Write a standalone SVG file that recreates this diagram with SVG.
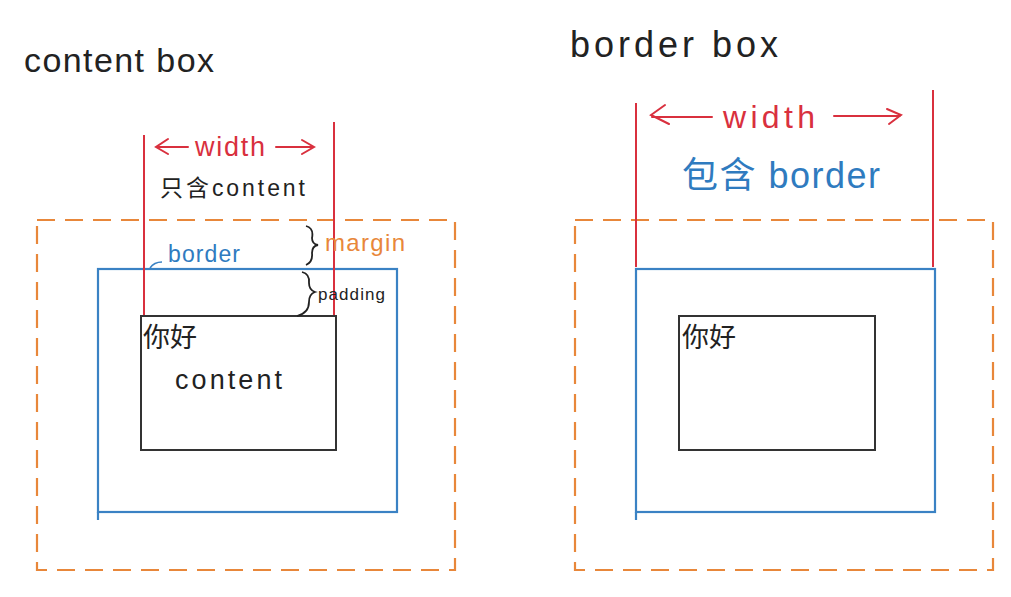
<svg xmlns="http://www.w3.org/2000/svg" width="1011" height="597" viewBox="0 0 1011 597">
<style>
.t{font-family:"Liberation Sans","Noto Sans CJK SC",sans-serif}
.blk{fill:#222}
.red{fill:#d9303e}
.blu{fill:#2f7bbf}
.org{fill:#e8873a}
.margin{fill:none;stroke:#e8873a;stroke-width:2.2;stroke-dasharray:18 10}
.border{fill:none;stroke:#3a82c4;stroke-width:2.2}
.content{fill:none;stroke:#333;stroke-width:2}
.wline{stroke:#d9303e;stroke-width:2;fill:none}
.arr{stroke:#d9303e;stroke-width:2;fill:none;stroke-linecap:round}
.brace{stroke:#222;stroke-width:1.8;fill:none}
</style>
<rect width="1011" height="597" fill="#fff"/>

<g id="left-title"><text class="t blk" x="24" y="72" font-size="34" textLength="190" lengthAdjust="spacing">content box</text></g>
<g id="left-margin"><rect class="margin" x="37" y="220" width="418" height="350"/></g>
<g id="left-border"><rect class="border" x="98" y="269" width="299" height="243"/><line class="border" x1="98" y1="512" x2="98" y2="520"/></g>
<g id="left-content"><rect class="content" x="141" y="316" width="195" height="134"/>
<text class="t blk" x="143" y="347" font-size="27">你好</text>
<text class="t blk" x="175" y="389" font-size="27" textLength="107" lengthAdjust="spacing">content</text></g>
<g id="left-width">
<line class="wline" x1="144" y1="135" x2="144" y2="315"/>
<line class="wline" x1="334" y1="122" x2="334" y2="315"/>
<path class="arr" d="M188 147 H157 M168 139 L156 147 L168 154"/>
<text class="t red" x="195" y="156" font-size="27" textLength="70" lengthAdjust="spacing">width</text>
<path class="arr" d="M276 147 H313 M302 140 L314 147 L302 154"/>
<text class="t blk" x="160" y="196" font-size="23" textLength="145" lengthAdjust="spacing">只含content</text>
</g>
<g id="left-labels">
<path class="brace" d="M306 226 Q314 228 312 238 Q312 244 318 245 Q312 246 312 253 Q313 262 306 265" stroke="#e8873a"/>
<text class="t org" x="325" y="251" font-size="24" textLength="80" lengthAdjust="spacing">margin</text>
<path d="M150 268 Q154 262 162 262" stroke="#3a82c4" stroke-width="1.5" fill="none"/>
<text class="t blu" x="168" y="262" font-size="23" textLength="72" lengthAdjust="spacing">border</text>
<path class="brace" d="M302 272 Q310 274 309 283 Q309 290 315 292 Q309 294 309 302 Q309 313 297 316"/>
<text class="t blk" x="318" y="300" font-size="17" textLength="67" lengthAdjust="spacing">padding</text>
</g>

<g id="right-title"><text class="t blk" x="570" y="57" font-size="36" textLength="208" lengthAdjust="spacing">border box</text></g>
<g id="right-margin"><rect class="margin" x="575" y="220" width="418" height="350"/></g>
<g id="right-border"><rect class="border" x="636" y="269" width="299" height="243"/><line class="border" x1="636" y1="512" x2="636" y2="520"/></g>
<g id="right-content"><rect class="content" x="679" y="316" width="196" height="134"/>
<text class="t blk" x="682" y="347" font-size="27">你好</text></g>
<g id="right-width">
<line class="wline" x1="636" y1="103" x2="636" y2="267"/>
<line class="wline" x1="933" y1="90" x2="933" y2="267"/>
<path class="arr" d="M712 117 H652 M665 105 L651 115 L669 124"/>
<text class="t red" x="723" y="128" font-size="32" textLength="92" lengthAdjust="spacing">width</text>
<path class="arr" d="M834 116 H900 M887 109 L901 115 L889 124"/>
<text class="t blu" x="682" y="188" font-size="36" textLength="198" lengthAdjust="spacing">包含 border</text>
</g>
</svg>
